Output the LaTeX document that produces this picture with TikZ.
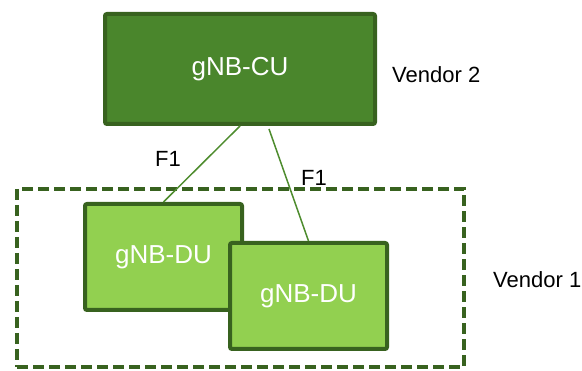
\documentclass[tikz,border=0pt]{standalone}
\usepackage{fontspec}
\setsansfont{Liberation Sans}
\usepackage{tikz}
\usetikzlibrary{positioning}
\definecolor{cugreen}{RGB}{74,134,44}
\definecolor{dugreen}{RGB}{146,208,80}
\definecolor{edgegreen}{RGB}{56,98,31}
\definecolor{linkgreen}{RGB}{78,140,46}
\tikzset{
  base/.style={font=\sffamily\fontsize{22}{26}\selectfont, inner sep=0pt, text=black},
  box/.style={base, rectangle, rounded corners=2pt, draw=edgegreen, line width=4pt, text=white, font=\sffamily\fontsize{26}{30}\selectfont},
  cubox/.style={box, fill=cugreen, minimum width=270pt, minimum height=110pt},
  dubox/.style={box, fill=dugreen, minimum width=157pt, minimum height=106pt},
  vendorbox/.style={rectangle, draw=edgegreen, line width=4pt, dash pattern=on 11pt off 5pt, minimum width=447pt, minimum height=178pt},
  link/.style={draw=linkgreen, line width=1.5pt},
  lbl/.style={base},
}
\begin{document}
\begin{tikzpicture}[x=1pt,y=-1pt]
  \useasboundingbox (0,0) rectangle (582,371);
  % vendor 1 group
  \node[vendorbox] (vend1) at (240.5,278) {};
  % units
  \node[cubox] (cu) at (240,69) {gNB-CU};
  \node[dubox] (du1) at (163.5,257) {gNB-DU};
  \node[dubox] (du2) at (308.5,296) {gNB-DU};
  % F1 links
  \draw[link] (cu.south) -- (du1.north);
  \draw[link] ([xshift=29pt,yshift=-3pt]cu.south) -- (du2.north);
  \node[lbl] (f1a) at (168,159) {F1};
  \node[lbl] (f1b) at (314,178) {F1};
  % vendor labels
  \node[lbl,anchor=west] (vend2lbl) at (392,75) {Vendor 2};
  \node[lbl,anchor=west] (vend1lbl) at (493,280) {Vendor 1};
\end{tikzpicture}
\end{document}
